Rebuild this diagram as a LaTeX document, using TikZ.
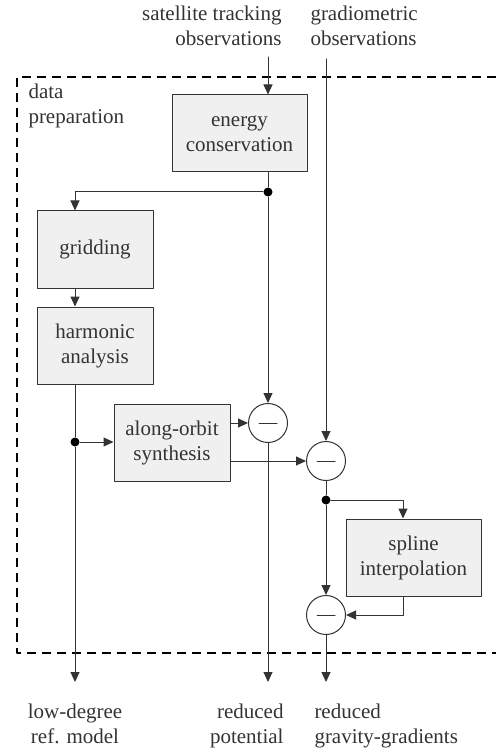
\documentclass[tikz,border=0pt]{standalone}
\usepackage{fontspec}
\setmainfont{Liberation Serif}
\usetikzlibrary{arrows.meta}
\definecolor{efefef}{rgb}{0.94,0.94,0.94}
\definecolor{dkgray}{rgb}{0.2,0.2,0.2}
\tikzset{
  procbox/.style={draw=dkgray,fill=efefef,line width=1pt,minimum height=77pt,align=center,inner sep=0pt},
  minuscirc/.style={draw=dkgray,fill=white,circle,line width=1pt,minimum size=39pt,inner sep=0pt,
    path picture={\draw[line width=1pt] ([xshift=-9pt]path picture bounding box.center) -- ([xshift=9pt]path picture bounding box.center);}},
  junc/.style={circle,fill=black,inner sep=0pt,minimum size=9pt},
  txt/.style={inner sep=0pt}
}

\begin{document}
\begin{tikzpicture}[line cap=round,line join=round,>={Triangle[length=10pt,width=9pt]},x=1pt,y=-1pt,font=\rmfamily\fontsize{21}{25}\selectfont,color=dkgray,line width=1pt]
			\useasboundingbox (0,0) rectangle (496,751);
			\draw [color=black,dash pattern=on 9pt off 6pt,line cap=butt,line width=1.2pt] (496,77) -- (17,77) -- (17,653) -- (496,653);
			\node[txt,anchor=north east,align=right] (sat) at (282,5) {satellite tracking\\observations};
			\node[txt,anchor=north west,align=left] (grad) at (310,5) {gradiometric\\observations};
			\node[txt,anchor=north west,align=left] (prep) at (28,83) {data\\preparation};
			\node[procbox,minimum width=135pt] (energy) at (239.5,133.5) {energy\\conservation};
			\node[procbox,minimum width=116pt] (gridding) at (95,249.5) {gridding};
			\node[procbox,minimum width=116pt] (harmonic) at (95,345.5) {harmonic\\analysis};
			\node[procbox,minimum width=116pt] (along) at (172,442.5) {along-orbit\\synthesis};
			\node[procbox,minimum width=135pt] (spline) at (413.5,557.5) {spline\\interpolation};
			\node[minuscirc] (c1) at (268,423) {};
			\node[minuscirc] (c2) at (326,461) {};
			\node[minuscirc] (c3) at (326,615) {};
			\node[junc] (d1) at (268,192) {};
			\node[junc] (d2) at (75,442) {};
			\node[junc] (d3) at (326,500) {};
			\coordinate (t1) at (268,57);
			\coordinate (t2) at (326,59);
			\coordinate (o1) at (75,682);
			\coordinate (o2) at (268,682);
			\coordinate (o3) at (326,682);
			\draw [->] (t1) -- (t1 |- energy.north);
			\draw (t1 |- energy.south) -- (d1);
			\draw [->] (d1) -| (d2 |- gridding.north);
			\draw [->] (d2 |- gridding.south) -- (d2 |- harmonic.north);
			\draw (d2 |- harmonic.south) -- (d2);
			\draw [->] (d2) -- (d2 -| along.west);
			\draw [->] (d2) -- (o1);
			\draw [->] (d1) -- (c1);
			\draw [->] (c1) -- (o2);
			\draw [->] (along.east |- c1) -- (c1);
			\draw [->] (along.east |- c2) -- (c2);
			\draw [->] (t2) -- (c2);
			\draw (c2) -- (d3);
			\draw [->] (d3) -| ([xshift=-10.5pt]spline.north);
			\draw [->] (d3) -- (c3);
			\draw [->] ([xshift=-10.5pt]spline.south) |- (c3);
			\draw [->] (c3) -- (o3);
			\node[txt,anchor=north,align=center] (low) at (75,703) {low-degree\\ref. model};
			\node[txt,anchor=north east,align=right] (rpot) at (284,703) {reduced\\potential};
			\node[txt,anchor=north west,align=left] (rgg) at (314,703) {reduced\\gravity-gradients};
\end{tikzpicture}
\end{document}
